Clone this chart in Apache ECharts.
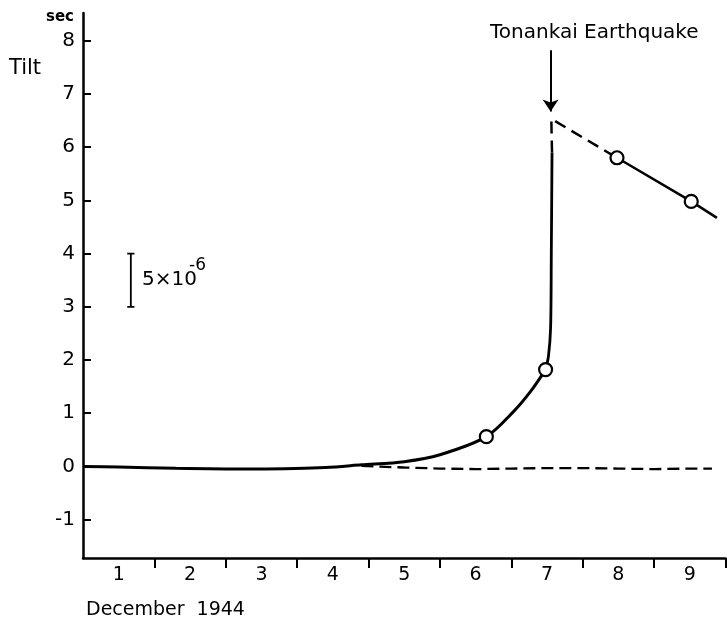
<!DOCTYPE html>
<html>
<head>
<meta charset="utf-8">
<script src="https://cdn.jsdelivr.net/npm/echarts@6/dist/echarts.min.js"></script>
<style>
html,body{margin:0;padding:0;background:#fff;}
#chart{width:727px;height:621px;}
</style>
</head>
<body>
<div id="chart"></div>
<script>
// ---- data ----
const dayLabels = [1, 2, 3, 4, 5, 6, 7, 8, 9];
const dayBounds = [1.5, 2.5, 3.5, 4.5, 5.5, 6.5, 7.5, 8.5, 9.5];
const yTicks = [-1, 0, 1, 2, 3, 4, 5, 6, 7, 8];

// pre-seismic tilt (solid curve, gradual part)
const riseX = [0.5, 1.0, 1.8, 2.8, 3.9, 4.4, 5.0, 5.5, 6.15, 6.53, 6.77, 6.98];
const riseY = [0.0, -0.01, -0.035, -0.05, -0.02, 0.03, 0.09, 0.22, 0.56, 1.03, 1.41, 1.82];

// pre-seismic tilt (solid, steep final part)
const steepX = [6.98, 7.02, 7.05, 7.06, 7.07];
const steepY = [1.82, 2.07, 2.6, 4.0, 5.9];

// co-seismic jump and early decay (dashed)
const jumpX = [7.07, 7.06, 7.98];
const jumpY = [5.9, 6.53, 5.80];

// post-seismic decay (solid)
const decayX = [7.98, 9.02, 9.38];
const decayY = [5.80, 4.98, 4.67];

// extrapolated baseline (dashed)
const baseX = [4.4, 5.0, 5.5, 6.0, 6.5, 7.0, 7.5, 8.0, 8.5, 9.0, 9.31];
const baseY = [0.01, -0.02, -0.04, -0.05, -0.04, -0.03, -0.03, -0.04, -0.05, -0.04, -0.04];

// observation points (open circles)
const obsX = [6.15, 6.98, 7.98, 9.02];
const obsY = [0.56, 1.82, 5.80, 4.98];

// scale bar (5x10^-6), from 3 to 4
const scaleX = [1.12, 1.22, 1.17, 1.17, 1.12, 1.22];
const scaleY = [4, 4, 4, 3, 3, 3];

// earthquake arrow
const quakeArrowX = [7.05, 7.05];
const quakeArrowY = [7.82, 6.67];

const zip = (xs, ys) => xs.map((x, i) => [x, ys[i]]);

const FONT = 'DejaVu Sans';
const chart = echarts.init(document.getElementById('chart'), null, {renderer: 'canvas'});

const lineBase = {
  type: 'line', symbol: 'none', animation: false, silent: true,
  smooth: false
};

chart.setOption({
  animation: false,
  backgroundColor: '#ffffff',
  grid: {left: 83, right: 1.5, top: 13, bottom: 63, containLabel: false},
  xAxis: {
    type: 'value', min: 0.5, max: 9.5,
    axisLine: {show: true, onZero: false, lineStyle: {color: '#000', width: 2.5}},
    axisTick: {show: true, inside: false, length: 10, customValues: dayBounds, lineStyle: {color: '#000', width: 2}},
    axisLabel: {show: true, customValues: dayLabels, margin: 8, color: '#000', fontFamily: FONT, fontSize: 19},
    splitLine: {show: false}
  },
  yAxis: {
    type: 'value', min: -1.72, max: 8.52,
    axisLine: {show: true, onZero: false, lineStyle: {color: '#000', width: 2.5}},
    axisTick: {show: true, inside: true, length: 8, customValues: yTicks, lineStyle: {color: '#000', width: 2}},
    axisLabel: {show: true, customValues: yTicks, margin: 8, color: '#000', fontFamily: FONT, fontSize: 20},
    splitLine: {show: false}
  },
  series: [
    Object.assign({}, lineBase, {data: zip(riseX, riseY), smooth: 0.3, lineStyle: {color: '#000', width: 3}}),
    Object.assign({}, lineBase, {data: zip(steepX, steepY), smooth: 0.3, lineStyle: {color: '#000', width: 2.8}}),
    Object.assign({}, lineBase, {data: zip(jumpX, jumpY), lineStyle: {color: '#000', width: 2.5, type: [12, 7]}}),
    Object.assign({}, lineBase, {data: zip(decayX, decayY), lineStyle: {color: '#000', width: 2.5}}),
    Object.assign({}, lineBase, {data: zip(baseX, baseY), lineStyle: {color: '#000', width: 2.3, type: [12, 6]}}),
    Object.assign({}, lineBase, {data: zip(scaleX, scaleY), lineStyle: {color: '#000', width: 1.8}}),
    Object.assign({}, lineBase, {
      data: [],
      markLine: {
        silent: true, animation: false,
        symbol: ['none', 'arrow'], symbolSize: 12,
        label: {show: false},
        lineStyle: {color: '#000', width: 2, type: 'solid'},
        data: [[{coord: [quakeArrowX[0], quakeArrowY[0]]}, {coord: [quakeArrowX[1], quakeArrowY[1]]}]]
      }
    }),
    {
      type: 'scatter', animation: false, silent: true,
      symbol: 'circle', symbolSize: 13,
      itemStyle: {color: '#fff', borderColor: '#000', borderWidth: 2.2, opacity: 1},
      data: zip(obsX, obsY), z: 5
    }
  ],
  graphic: [
    {type: 'text', left: 46, top: 10, style: {text: 'sec', font: 'bold 15px ' + FONT, fill: '#000'}},
    {type: 'text', left: 9, top: 58, style: {text: 'Tilt', font: '21px ' + FONT, fill: '#000'}},
    {type: 'text', left: 490, top: 23, style: {text: 'Tonankai Earthquake', font: '20px ' + FONT, fill: '#000'}},
    {type: 'text', left: 142, top: 270, style: {text: '5×10', font: '20px ' + FONT, fill: '#000'}},
    {type: 'text', left: 189, top: 257, style: {text: '-6', font: '17px ' + FONT, fill: '#000'}},
    {type: 'text', left: 86, top: 601, style: {text: 'December  1944', font: '19px ' + FONT, fill: '#000'}}
  ]
});
</script>
</body>
</html>
